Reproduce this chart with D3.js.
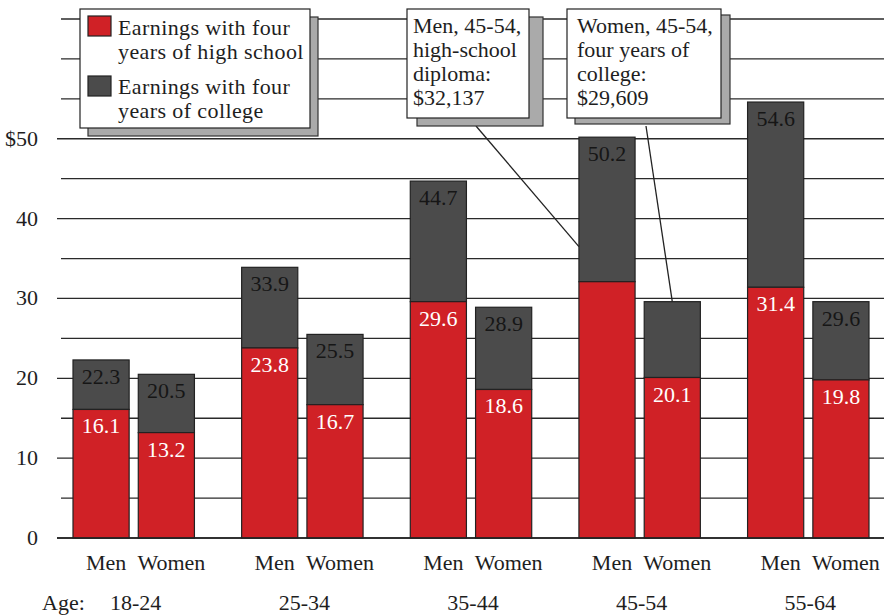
<!DOCTYPE html>
<html>
<head>
<meta charset="utf-8">
<script src="https://cdn.jsdelivr.net/npm/d3@7/dist/d3.min.js"></script>
<style>
  html, body { margin: 0; padding: 0; background: #fff; }
  svg { display: block; }
  text { font-family: "Liberation Serif", "Times New Roman", serif; }
</style>
</head>
<body>
<svg id="chart" width="884" height="616"></svg>
<script>
// ---- data ----
const ageGroups = ["18-24", "25-34", "35-44", "45-54", "55-64"];
const sexes = ["Men", "Women"];
const highSchoolMen   = [16.1, 23.8, 29.6, 32.1, 31.4];
const highSchoolWomen = [13.2, 16.7, 18.6, 20.1, 19.8];
const collegeMen      = [22.3, 33.9, 44.7, 50.2, 54.6];
const collegeWomen    = [20.5, 25.5, 28.9, 29.6, 29.6];
const yTickValues = [0, 10, 20, 30, 40, 50];
const yTickLabels = ["0", "10", "20", "30", "40", "$50"];
const minorLines = [5, 15, 25, 35, 45, 55, 60, 65];
const legendLabels = [["Earnings with four", "years of high school"], ["Earnings with four", "years of college"]];
const callout1 = ["Men, 45-54,", "high-school", "diploma:", "$32,137"];
const callout2 = ["Women, 45-54,", "four years of", "college:", "$29,609"];
// labels hidden where the callouts point
const hideHS = [["45-54", "Men"]];
const hideCol = [["45-54", "Women"]];

const RED = "#d02126", GRAY = "#4b4b4b", INK = "#1e1e1e";
const svg = d3.select("#chart");

const y = d3.scaleLinear().domain([0, 65]).range([538, 19]);
const x0 = d3.scaleBand().domain(ageGroups).range([73, 869]).paddingInner(0.28).paddingOuter(0);
const x1 = d3.scaleBand().domain(sexes).range([0, x0.bandwidth()]).paddingInner(0.14);

const rows = [];
ageGroups.forEach((g, i) => {
  rows.push({ g, s: "Men", hs: highSchoolMen[i], col: collegeMen[i] });
  rows.push({ g, s: "Women", hs: highSchoolWomen[i], col: collegeWomen[i] });
});

// gridlines
svg.append("g").selectAll("line").data(minorLines).join("line")
  .attr("x1", 61).attr("x2", 884)
  .attr("y1", d => y(d)).attr("y2", d => y(d))
  .attr("stroke", "#2a2a2a").attr("stroke-width", 1.3);
svg.append("g").selectAll("line").data(yTickValues).join("line")
  .attr("x1", 57).attr("x2", 884)
  .attr("y1", d => y(d)).attr("y2", d => y(d))
  .attr("stroke", "#2a2a2a").attr("stroke-width", 1.3);

// y tick labels
svg.append("g").selectAll("text").data(yTickValues).join("text")
  .attr("x", 38).attr("y", d => y(d) + 7)
  .attr("text-anchor", "end").attr("font-size", 22).attr("fill", INK)
  .text((d, i) => yTickLabels[i]);

// bars
const bars = svg.append("g").selectAll("g").data(rows).join("g")
  .attr("transform", d => `translate(${x0(d.g) + x1(d.s)},0)`);
bars.append("rect")
  .attr("x", 0).attr("width", x1.bandwidth())
  .attr("y", d => y(d.col)).attr("height", d => y(d.hs) - y(d.col))
  .attr("fill", GRAY).attr("stroke", "#222").attr("stroke-width", 1.2);
bars.append("rect")
  .attr("x", 0).attr("width", x1.bandwidth())
  .attr("y", d => y(d.hs)).attr("height", d => y(0) - y(d.hs))
  .attr("fill", RED).attr("stroke", "#222").attr("stroke-width", 1.2);

const isHidden = (list, d) => list.some(([g, s]) => g === d.g && s === d.s);
bars.filter(d => !isHidden(hideCol, d)).append("text")
  .attr("x", x1.bandwidth() / 2).attr("y", d => y(d.col) + 24)
  .attr("text-anchor", "middle").attr("font-size", 22).attr("fill", "#161616")
  .text(d => d.col.toFixed(1));
bars.filter(d => !isHidden(hideHS, d)).append("text")
  .attr("x", x1.bandwidth() / 2).attr("y", d => y(d.hs) + 24)
  .attr("text-anchor", "middle").attr("font-size", 22).attr("fill", "#fff")
  .text(d => d.hs.toFixed(1));

// axis baseline
svg.append("line").attr("x1", 57).attr("x2", 884).attr("y1", y(0)).attr("y2", y(0))
  .attr("stroke", "#222").attr("stroke-width", 1.5);

// category labels
svg.append("g").selectAll("text").data(rows).join("text")
  .attr("x", d => x0(d.g) + x1(d.s) + x1.bandwidth() / 2 + 5)
  .attr("y", 570).attr("text-anchor", "middle").attr("font-size", 22).attr("fill", INK)
  .text(d => d.s);
svg.append("g").selectAll("text").data(ageGroups).join("text")
  .attr("x", d => x0(d) + x0.bandwidth() / 2 + 2)
  .attr("y", 610).attr("text-anchor", "middle").attr("font-size", 22).attr("fill", INK)
  .text(d => d);
svg.append("text").attr("x", 42).attr("y", 610).attr("font-size", 22).attr("fill", INK).text("Age:");

// legend
const lg = svg.append("g");
lg.append("rect").attr("x", 88).attr("y", 17).attr("width", 230).attr("height", 119)
  .attr("fill", "#aaa").attr("stroke", "#333").attr("stroke-width", 1.2);
lg.append("rect").attr("x", 80).attr("y", 9).attr("width", 230).attr("height", 119)
  .attr("fill", "#fff").attr("stroke", "#222").attr("stroke-width", 1.2);
[RED, GRAY].forEach((c, i) => {
  lg.append("rect").attr("x", 88).attr("y", 16 + i * 60).attr("width", 23).attr("height", 20)
    .attr("fill", c).attr("stroke", "#222").attr("stroke-width", 1.2);
  legendLabels[i].forEach((t, j) => {
    lg.append("text").attr("x", 118).attr("y", 35 + i * 59 + j * 24)
      .attr("font-size", 22).attr("letter-spacing", 0.4).attr("fill", INK).text(t);
  });
});

// callouts
function callout(lines, bx, by, bw, bh, sx, sy, sw, sh, tx, from, to) {
  const g = svg.append("g");
  g.append("line").attr("x1", from[0]).attr("y1", from[1]).attr("x2", to[0]).attr("y2", to[1])
    .attr("stroke", "#222").attr("stroke-width", 1.3);
  g.append("rect").attr("x", sx).attr("y", sy).attr("width", sw).attr("height", sh)
    .attr("fill", "#aaa").attr("stroke", "#333").attr("stroke-width", 1.2);
  g.append("rect").attr("x", bx).attr("y", by).attr("width", bw).attr("height", bh)
    .attr("fill", "#fff").attr("stroke", "#222").attr("stroke-width", 1.2);
  lines.forEach((t, j) => {
    g.append("text").attr("x", tx).attr("y", 33 + j * 24).attr("font-size", 22)
      .attr("fill", INK).text(t);
  });
}
callout(callout1, 407, 9, 122, 109, 417, 17, 126, 109, 413,
  [476, 126], [x0("45-54") + x1("Men"), y(36.5)]);
callout(callout2, 567, 9, 154, 109, 575, 15, 155, 109, 577,
  [646, 126], [x0("45-54") + x1("Women") + x1.bandwidth() / 2, y(collegeWomen[3])]);
</script>
</body>
</html>
